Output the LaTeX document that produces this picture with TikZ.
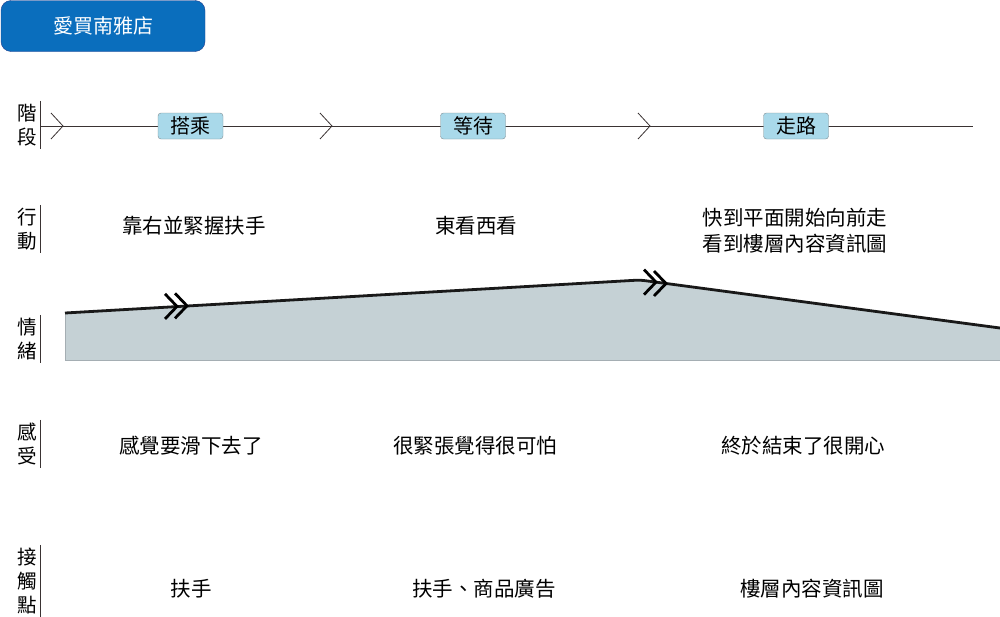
\documentclass[tikz,border=0pt]{standalone}
\usepackage{fontspec}
\setmainfont{Noto Sans CJK TC}
\usepackage{xcolor}
\usetikzlibrary{positioning}
\definecolor{storeblue}{HTML}{0A6EBD}
\definecolor{storeedge}{HTML}{263F8E}
\definecolor{stageblue}{HTML}{A9D9EA}
\definecolor{boxgray}{HTML}{7F8C92}
\definecolor{linegray}{HTML}{3A3333}
\definecolor{emofill}{HTML}{C5D1D5}

\begin{document}
\begin{tikzpicture}[
  x=1pt, y=-1pt,
  store/.style={draw=storeedge, fill=storeblue, rounded corners=10pt, minimum width=204pt, minimum height=51pt, text=white, font=\fontsize{20}{22}\selectfont},
  rowlabel/.style={align=center, anchor=east, inner xsep=0pt, inner ysep=3pt, font=\fontsize{19.5}{24}\selectfont},
  stagebox/.style={draw=boxgray, fill=stageblue, rounded corners=3pt, minimum width=65pt, minimum height=26pt, inner sep=0pt, font=\fontsize{20}{22}\selectfont},
  txt/.style={align=center, font=\fontsize{20.5}{26}\selectfont},
  chev/.style={line width=2.8pt, black},
  emoline/.style={line width=2.8pt, black!90, rounded corners=4pt}
]
\useasboundingbox (0,0) rectangle (1000,616);

% store name
\node[store] (store) at (103,26) {愛買南雅店};

% row labels
\node[rowlabel] (lstage) at (37,125) {階\\段};
\node[rowlabel] (lact)   at (37,229) {行\\動};
\node[rowlabel] (lemo)   at (37,339) {情\\緒};
\node[rowlabel] (lfeel)  at (37,444) {感\\受};
\node[rowlabel] (ltouch) at (37,581) {接\\觸\\點};
\foreach \l in {lstage,lact,lemo,lfeel,ltouch}
  \draw[linegray, line width=1pt] ([xshift=3pt]\l.north east) -- ([xshift=3pt]\l.south east);

% stage timeline
\coordinate (tstart) at (40,126);
\coordinate (tend) at (973,126);
\draw[linegray, line width=1pt] (tstart) -- (tend);
\foreach \cx in {63,332,650}
  \draw[linegray, line width=0.8pt] (\cx-12,113) -- (\cx,126) -- (\cx-12,139);
\node[stagebox] (ride) at (190.5,126) {搭乘};
\node[stagebox] (wait) at (473,126) {等待};
\node[stagebox] (walk) at (796,126) {走路};

% actions
\node[txt] (act1) at (194,226) {靠右並緊握扶手};
\node[txt] (act2) at (476,226) {東看西看};
\node[txt] (act3) at (795,231) {快到平面開始向前走\\看到樓層內容資訊圖};

% emotion curve
\fill[emofill] (65,313) -- (640,280) -- (1000,328) -- (1000,360) -- (65,360) -- cycle;
\draw[boxgray!70, line width=0.6pt] (65,313) -- (65,360) -- (1000,360);
\draw[emoline] (65,313) -- (640,280) -- (1000,328);
\foreach \tx/\ty in {177/306.4,187/305.8,656/282.1,666/283.5}
  \draw[chev] (\tx-12,\ty-12.5) -- (\tx,\ty) -- (\tx-12,\ty+12.5);

% feelings
\node[txt] (feel1) at (191,446) {感覺要滑下去了};
\node[txt] (feel2) at (475,446) {很緊張覺得很可怕};
\node[txt] (feel3) at (803,446) {終於結束了很開心};

% touchpoints
\node[txt] (touch1) at (191,589) {扶手};
\node[txt] (touch2) at (484,589) {扶手、商品廣告};
\node[txt] (touch3) at (812,589) {樓層內容資訊圖};
\end{tikzpicture}
\end{document}
